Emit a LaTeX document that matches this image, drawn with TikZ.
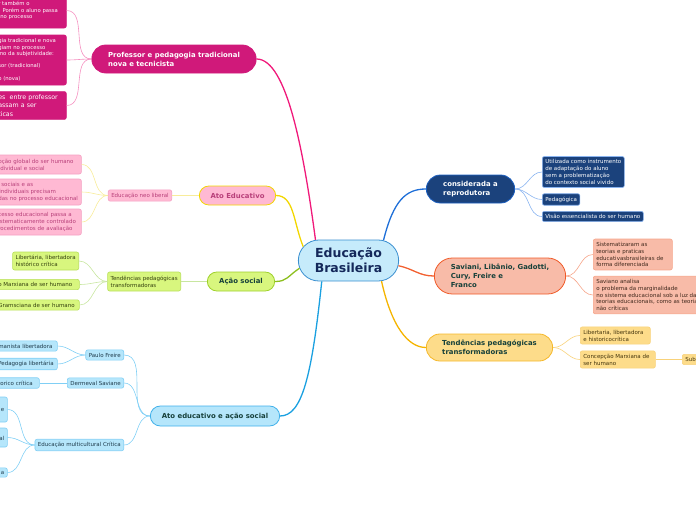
\documentclass[tikz,border=0pt]{standalone}
\usepackage{fontspec}
\setmainfont{DejaVu Sans}
\usepackage{xcolor}
\usepackage{tikz}
\usetikzlibrary{positioning,shapes.misc}

\definecolor{rootfill}{HTML}{C6EBFB}
\definecolor{rootdraw}{HTML}{3A8FD0}
\definecolor{roottext}{HTML}{14285A}
\definecolor{darktext}{HTML}{16403A}
\definecolor{magfill}{HTML}{D0197A}
\definecolor{magline}{HTML}{F0197A}
\definecolor{magsub}{HTML}{F590C0}
\definecolor{pinkfill}{HTML}{FFB9D3}
\definecolor{pinkdraw}{HTML}{F4A0C2}
\definecolor{pinktext}{HTML}{B8407A}
\definecolor{yelline}{HTML}{F2D600}
\definecolor{yelsub}{HTML}{F8EC9A}
\definecolor{greenfill}{HTML}{D8F67E}
\definecolor{greendraw}{HTML}{9ED02A}
\definecolor{greensub}{HTML}{B8E05A}
\definecolor{greenline}{HTML}{8CBF1E}
\definecolor{greenlink}{HTML}{C8E6A0}
\definecolor{greentext}{HTML}{34400E}
\definecolor{bluefill}{HTML}{B5E6FB}
\definecolor{bluedraw}{HTML}{3FB0EA}
\definecolor{bluesub}{HTML}{80CFF5}
\definecolor{blueline}{HTML}{1AA0E0}
\definecolor{bluetext}{HTML}{1E3A4A}
\definecolor{navyfill}{HTML}{1B427C}
\definecolor{navydraw}{HTML}{1B5FC0}
\definecolor{navysub}{HTML}{8AB4F0}
\definecolor{navyline}{HTML}{1F6FD8}
\definecolor{salfill}{HTML}{F8BBA8}
\definecolor{saldraw}{HTML}{F05A28}
\definecolor{salsub}{HTML}{F6A58A}
\definecolor{salline}{HTML}{F26030}
\definecolor{saltext}{HTML}{40281C}
\definecolor{goldfill}{HTML}{FDDC8A}
\definecolor{golddraw}{HTML}{F5B82A}
\definecolor{goldsub}{HTML}{F8D27A}
\definecolor{goldline}{HTML}{F5B400}
\definecolor{goldtext}{HTML}{45360E}

\begin{document}
\begin{tikzpicture}[x=1pt, y=-1pt,
  rootnode/.style={rounded rectangle, draw=rootdraw, fill=rootfill, line width=0.8pt, minimum width=107pt, minimum height=41pt, align=center, text=roottext, font=\fontsize{12.5}{15}\selectfont\bfseries},
  mainnode/.style={rounded rectangle, line width=0.8pt, align=left, font=\fontsize{6.9}{9}\selectfont\bfseries},
  box/.style={rectangle, rounded corners=2pt, line width=0.6pt, inner xsep=3pt, inner ysep=3pt, align=left, font=\fontsize{5.5}{6.9}\selectfont},
  cutbox/.style={box, anchor=west, text width=#1},
  leftbox/.style={box, anchor=west, text width=#1},
  magbox/.style={box, draw=magfill, fill=magfill, text=white},
  pinkbox/.style={box, draw=pinkdraw, fill=pinkfill, text=pinktext},
  greenbox/.style={box, draw=greensub, fill=greenfill, text=greentext},
  bluebox/.style={box, draw=bluesub, fill=bluefill, text=bluetext},
  navybox/.style={box, draw=navysub, fill=navyfill, text=white},
  salbox/.style={box, draw=salsub, fill=salfill, text=saltext},
  goldbox/.style={box, draw=goldsub, fill=goldfill, text=goldtext},
  mainlink/.style={line width=1.3pt},
  sublink/.style={line width=0.6pt},
  thicklink/.style={line width=1.6pt}]

\useasboundingbox (0,0) rectangle (696,520);
\clip (0,0) rectangle (696,520);

% centre
\node[rootnode] (root) at (348.5,260.5) {Educação\\Brasileira};

% main branches
\node[mainnode, draw=magfill, fill=magfill, text=white, minimum width=171pt, minimum height=28pt] (prof) at (174,59) {Professor e pedagogia tradicional\\nova e tecnicista};
\node[mainnode, draw=yelline, fill=pinkfill, text=pinktext, minimum width=83pt, minimum height=19pt] (atoedu) at (237.5,195.5) {Ato Educativo};
\node[mainnode, draw=greendraw, fill=greenfill, text=darktext, minimum width=74pt, minimum height=19pt] (acao) at (241,281.5) {Ação social};
\node[mainnode, draw=bluedraw, fill=bluefill, text=darktext, minimum width=136pt, minimum height=20pt] (atoacao) at (215,416) {Ato educativo e ação social};
\node[mainnode, draw=navydraw, fill=navyfill, text=white, minimum width=95pt, minimum height=28pt] (repro) at (470.5,189) {considerada a\\reprodutora};
\node[mainnode, draw=saldraw, fill=salfill, text=darktext, minimum width=138pt, minimum height=36pt] (saviani) at (500,276) {Saviani, Libânio, Gadotti,\\Cury, Freire e\\Franco};
\node[mainnode, draw=golddraw, fill=goldfill, text=darktext, minimum width=133pt, minimum height=27pt] (tendR) at (489.5,347.5) {Tendências pedagógicas\\transformadoras};

% professor
\node[magbox, cutbox=65pt, minimum height=35pt, font=\fontsize{5.3}{6.5}\selectfont] (profA) at (-5,10.5) {r também o\\. Porém o aluno passa\\\hspace*{2pt}no processo};
\node[magbox, cutbox=65pt, minimum height=50pt, font=\fontsize{5.3}{6.3}\selectfont] (profB) at (-5,60) {gia tradicional e nova\\giam no processo\\ino da subjetividade:\\[6.3pt]sor (tradicional)\\[6.3pt]o (nova)};
\node[magbox, cutbox=65pt, minimum height=27pt, font=\fontsize{6.3}{8.5}\selectfont] (profC) at (-5,105.5) {es\ \ entre professor\\assam a ser\\ticas};

% ato educativo
\node[pinkbox, anchor=east] (neolib) at (172,195.5) {Educação neo liberal};
\node[pinkbox, cutbox=80pt, minimum height=19pt] (neoA) at (-5,164.5) {pção global do ser humano\\\hspace*{2pt}dividual e social};
\node[pinkbox, cutbox=80pt, minimum height=26pt] (neoB) at (-5,192) {\hspace*{3pt}sociais e as\\\hspace*{1pt}individuais precisam\\das no processo educacional};
\node[pinkbox, cutbox=80pt, minimum height=26pt] (neoC) at (-5,222) {cesso educacional passa a\\istematicamente controlado\\rocedimentos de avaliação};

% acao social
\node[greenbox, anchor=east, minimum height=19pt] (tendL) at (181,281.5) {Tendências pedagógicas\\transformadoras};
\node[greenbox, anchor=east, minimum height=18pt] (tendLA) at (79,261) {Libertária, libertadora\\histórico crítica};
\node[greenbox, cutbox=78pt] (tendLB) at (-5,284.5) {o Marxiana de ser humano};
\node[greenbox, cutbox=78pt] (tendLC) at (-5,305) {Gramsciana de ser humano};

% ato educativo e acao social
\node[bluebox, anchor=east] (freire) at (124,355) {Paulo Freire};
\node[bluebox, anchor=east] (saviane) at (124,383) {Dermeval Saviane};
\node[bluebox, anchor=east] (multi) at (124,445) {Educação multicultural Crítica};
\node[bluebox, cutbox=56pt] (freireA) at (-5,346) {manista libertadora};
\node[bluebox, cutbox=56pt] (freireB) at (-5,364) {Pedagogia libertária};
\node[bluebox, cutbox=38pt] (savianeA) at (-5,383) {torico crítica};
\node[bluebox, cutbox=6pt, align=right, minimum height=25pt] (multiA) at (-5,409.5) {e};
\node[bluebox, cutbox=6pt, align=right, minimum height=19pt] (multiB) at (-5,437.5) {\mbox{}\\al};
\node[bluebox, cutbox=6pt, align=right] (multiC) at (-5,472.5) {a};

% considerada a reprodutora
\node[navybox, anchor=west] (reproA) at (542,172) {Utilizada como instrumento\\de adaptação do aluno\\sem a problematização\\do contexto social vivido};
\node[navybox, anchor=west] (reproB) at (542,199.5) {Pedagógica};
\node[navybox, anchor=west] (reproC) at (542,216.5) {Visão essencialista do ser humano};

% saviani
\node[salbox, leftbox=73pt] (savianiA) at (593,254.5) {Sistematizaram as\\teorias e praticas\\educativasbrasileiras de\\forma diferenciada};
\node[salbox, leftbox=125pt] (savianiB) at (593,295) {Saviano analisa\\o problema da marginalidade\\no sistema educacional sob a luz da\\teorias educacionais, como as teoria\\não críticas};

% tendencias
\node[goldbox, leftbox=64pt] (tendRA) at (580,335.5) {Libertaria, libertadora\\e historicocrítica};
\node[goldbox, leftbox=69pt] (tendRB) at (580,359.5) {Concepção Marxiana de\\ser humano};
\node[goldbox, leftbox=24pt] (sub) at (682,359.5) {Sub};

% main links
\draw[mainlink, magline] (root.148) .. controls +(-12,-90) and +(30,0) .. (prof.east);
\draw[mainlink, yelline] (root.163) .. controls +(-10,-25) and +(18,0) .. (atoedu.east);
\draw[mainlink, greenline] (root.189) .. controls +(-12,8) and +(12,0) .. (acao.east);
\draw[mainlink, blueline] (root.218) .. controls +(-10,95) and +(22,0) .. (atoacao.east);
\draw[mainlink, navyline] (root.30) .. controls +(10,-40) and +(-20,0) .. (repro.west);
\draw[mainlink, salline] (root.354) .. controls +(15,3) and +(-15,0) .. (saviani.west);
\draw[mainlink, goldline] (root.328) .. controls +(10,45) and +(-18,0) .. (tendR.west);

% sub links
\draw[sublink, magsub] (prof.west) to[out=180, in=0] (profA.east);
\draw[sublink, magsub] (prof.west) to[out=180, in=0] (profB.east);
\draw[sublink, magsub] (prof.west) to[out=180, in=0] (profC.east);

\draw[thicklink, yelsub] (atoedu.west) -- (neolib.east);
\draw[sublink, yelsub] (neolib.west) to[out=180, in=0] (neoA.east);
\draw[sublink, yelsub] (neolib.west) to[out=180, in=0] (neoB.east);
\draw[sublink, yelsub] (neolib.west) to[out=180, in=0] (neoC.east);

\draw[thicklink, greenlink] (acao.west) -- (tendL.east);
\draw[sublink, greenlink] (tendL.west) to[out=180, in=0] (tendLA.east);
\draw[sublink, greenlink] (tendL.west) to[out=180, in=0] (tendLB.east);
\draw[sublink, greenlink] (tendL.west) to[out=180, in=0] (tendLC.east);

\draw[sublink, bluesub] (atoacao.west) to[out=180, in=0] (freire.east);
\draw[sublink, bluesub] (atoacao.west) to[out=180, in=0] (saviane.east);
\draw[sublink, bluesub] (atoacao.west) to[out=180, in=0] (multi.east);
\draw[sublink, bluesub] (freire.west) to[out=180, in=0] (freireA.east);
\draw[sublink, bluesub] (freire.west) to[out=180, in=0] (freireB.east);
\draw[sublink, bluesub] (saviane.west) -- (savianeA.east);
\draw[sublink, bluesub] (multi.west) to[out=180, in=0] (multiA.east);
\draw[sublink, bluesub] (multi.west) to[out=180, in=0] (multiB.east);
\draw[sublink, bluesub] (multi.west) to[out=180, in=0] (multiC.east);

\draw[sublink, navysub] (repro.east) to[out=0, in=180] (reproA.west);
\draw[sublink, navysub] (repro.east) to[out=0, in=180] (reproB.west);
\draw[sublink, navysub] (repro.east) to[out=0, in=180] (reproC.west);

\draw[sublink, salsub] (saviani.east) to[out=0, in=180] (savianiA.west);
\draw[sublink, salsub] (saviani.east) to[out=0, in=180] (savianiB.west);

\draw[sublink, goldsub] (tendR.east) to[out=0, in=180] (tendRA.west);
\draw[sublink, goldsub] (tendR.east) to[out=0, in=180] (tendRB.west);
\draw[thicklink, goldsub] (tendRB.east) -- (sub.west);

\end{tikzpicture}
\end{document}
